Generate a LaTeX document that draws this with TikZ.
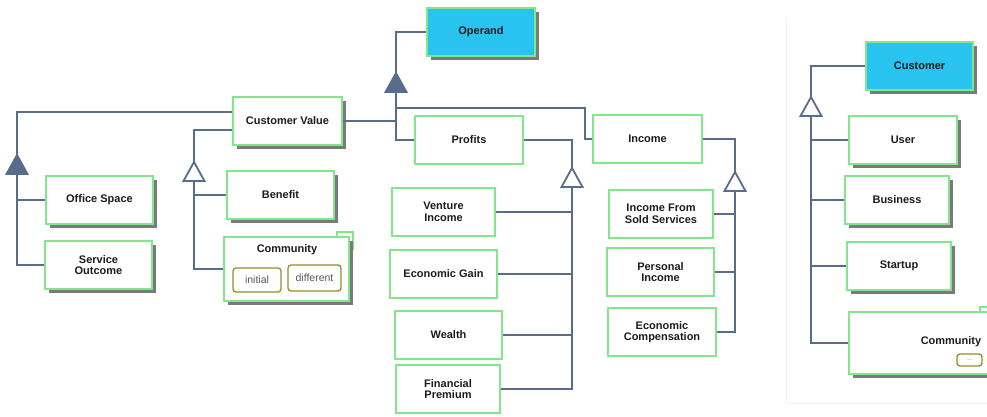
\documentclass[tikz,border=0pt]{standalone}
\usepackage{fontspec}
\setmainfont{Liberation Sans}
\usetikzlibrary{shadows}

\definecolor{slate}{HTML}{5A6C8C}
\definecolor{leaf}{HTML}{82E68C}
\definecolor{sky}{HTML}{29C3F0}
\definecolor{olivebox}{HTML}{968C28}
\definecolor{shade}{HTML}{7A7A7A}
\definecolor{ink}{HTML}{1C1C1C}

\begin{document}
\begin{tikzpicture}[
    x=1pt,
    y=-1pt,
    line join=miter,
    link/.style={draw=slate, line width=1.8pt},
    box/.style={draw=leaf, line width=1.6pt, fill=white, text=ink,
      font=\bfseries\fontsize{11}{11.5}\selectfont, align=center,
      inner sep=0pt, minimum width=107pt, minimum height=48pt},
    shadowed/.style={drop shadow={shadow xshift=4pt, shadow yshift=-4pt,
      fill=shade, opacity=1}},
    kind/.style={box, shadowed, fill=sky},
    chip/.style={draw=olivebox, line width=1.3pt, rounded corners=3pt,
      fill=white, text=black!65, inner sep=0pt,
      font=\fontsize{10.5}{12}\selectfont}
  ]

  \useasboundingbox (0,0) rectangle (987,416);
  \clip (0,0) rectangle (987,416);
  \fill[white] (0,0) rectangle (987,416);
  \draw[black!5, line width=0.8pt] (786,18) -- (786,403) -- (990,403);

  % apexes of the generalisation triangles
  \coordinate (gA) at (17,155);
  \coordinate (gB) at (194,162);
  \coordinate (gOp) at (396,73);
  \coordinate (gP) at (572,168);
  \coordinate (gI) at (735,172);
  \coordinate (gC) at (811,97);
  \coordinate (bendI) at (585,108);

  % boxes
  \node[kind, minimum width=108pt] (operand) at (481,32) {Operand};
  \node[kind] (customer) at (919.5,66) {Customer};

  \node[box, shadowed, minimum width=109pt] (cv) at (287.5,121) {Customer Value};
  \node[box, shadowed] (office) at (99.5,200) {Office Space};
  \node[box, shadowed] (service) at (98.5,265) {Service\\Outcome};
  \node[box, shadowed] (benefit) at (280.5,195) {Benefit};

  \node[box, minimum width=108pt] (profits) at (469,140) {Profits};
  \node[box, minimum width=109pt] (income) at (647.5,139) {Income};

  \node[box, minimum width=103pt] (venture) at (443.5,212) {Venture\\Income};
  \node[box] (econgain) at (443.5,274) {Economic Gain};
  \node[box] (wealth) at (448.5,335) {Wealth};
  \node[box, minimum width=104pt] (finprem) at (448,389) {Financial\\Premium};

  \node[box, minimum width=104pt] (ifss) at (661,214) {Income From\\Sold Services};
  \node[box] (personal) at (660.5,272) {Personal\\Income};
  \node[box, minimum width=108pt] (econcomp) at (662,332) {Economic\\Compensation};

  \node[box, shadowed, minimum width=108pt] (user) at (903,140) {User};
  \node[box, shadowed, minimum width=104pt] (business) at (897,200) {Business};
  \node[box, shadowed, minimum width=104pt] (startup) at (899,266) {Startup};

  % community boxes with their tab and value chips
  \draw[draw=leaf, line width=1.6pt, fill=white] (337,232) rectangle (353,249);
  \node[box, shadowed, minimum width=125pt, minimum height=64pt] (commL) at (286.5,269) {};
  \node[font=\bfseries\fontsize{11}{11.5}\selectfont, text=ink] (commLt) at (287,250) {Community};
  \node[chip, minimum width=48pt, minimum height=24pt] (initial) at (257,280) {initial};
  \node[chip, minimum width=53pt, minimum height=26pt] (different) at (314.5,278) {different};

  \draw[draw=leaf, line width=1.6pt, fill=white] (980,307) rectangle (1000,324);
  \node[box, shadowed, minimum width=161pt, minimum height=62pt] (commR) at (929.5,343) {};
  \node[font=\bfseries\fontsize{11}{11.5}\selectfont, text=ink] (commRt) at (951,342) {Community};
  \node[chip, minimum width=25pt, minimum height=12pt, font=\fontsize{6}{7}\selectfont] (more) at (969.5,360) {...};

  % connectors
  \draw[link] ([yshift=9pt]cv.west) -| (gA);
  \draw[link] ([yshift=-9pt]cv.west) -| (gB);
  \draw[link] (cv.east) -- (cv.east -| gOp);
  \draw[link] (operand.west) -| (gOp);
  \draw[link] (gOp) ++(0,19) |- (profits.west);
  \draw[link] (gOp) ++(0,19) |- (bendI) |- (income.west);
  \draw[link] (profits.east) -| (gP);
  \draw[link] (income.east) -| (gI);
  \draw[link] (customer.west) -| (gC);

  \foreach \b in {office,service}
    \draw[link] (gA) ++(0,19) |- (\b.west);
  \foreach \b in {benefit,commL}
    \draw[link] (gB) ++(0,19) |- (\b.west);
  \foreach \b in {venture,econgain,wealth,finprem}
    \draw[link] (gP) ++(0,19) |- (\b.east);
  \foreach \b in {ifss,personal,econcomp}
    \draw[link] (gI) ++(0,19) |- (\b.east);
  \foreach \b in {user,business,startup,commR}
    \draw[link] (gC) ++(0,19) |- (\b.west);

  % triangles
  \foreach \g/\f in {gA/slate,gOp/slate,gB/white,gP/white,gI/white,gC/white}
    \draw[link, fill=\f] (\g) -- ++(-10.5,19) -- ++(21,0) -- cycle;
\end{tikzpicture}
\end{document}
